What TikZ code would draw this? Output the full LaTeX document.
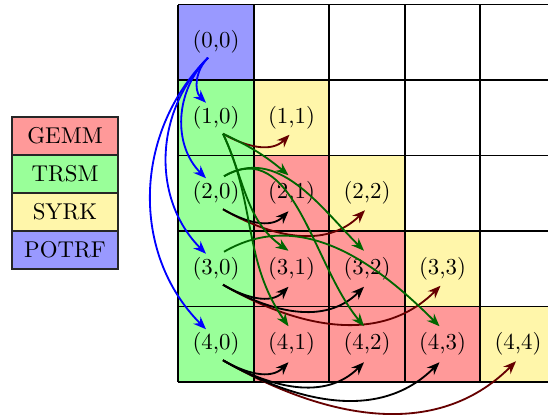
\documentclass[tikz,border=0pt]{standalone}
\usetikzlibrary{arrows.meta,calc}
\definecolor{gemm}{RGB}{255,153,153}
\definecolor{trsm}{RGB}{153,255,153}
\definecolor{syrk}{RGB}{255,246,170}
\definecolor{potrf}{RGB}{153,153,255}
\definecolor{dgreen}{RGB}{0,102,0}
\definecolor{dred}{RGB}{102,0,0}
\begin{document}
\begin{tikzpicture}[x=0.4375pt,y=0.4375pt,
  cellbox/.style={fill=#1, minimum width=33.03pt, minimum height=33.03pt, inner sep=0pt, outer sep=0pt},
  legbox/.style={fill=#1, draw=black!85, line width=0.5pt, minimum width=46.4pt, minimum height=16.6pt, inner sep=0pt, outer sep=0pt},
  gridline/.style={thick, black},
  arr/.style={thick, -{Stealth[length=5.6pt,width=4.4pt]}},
  potrfarr/.style={arr, blue},
  gemmarr/.style={arr, black},
  syrkarr/.style={arr, dred},
  trsmarr/.style={arr, dgreen}]
\useasboundingbox (0,0) rectangle (548,417);
% legend
\node[legbox=gemm]  (lgemm)  at (65,281) {GEMM};
\node[legbox=trsm]  (ltrsm)  at (65,243) {TRSM};
\node[legbox=syrk]  (lsyrk)  at (65,205) {SYRK};
\node[legbox=potrf] (lpotrf) at (65,167) {POTRF};
% cells
\foreach \r in {0,...,4}{
  \foreach \c in {0,...,4}{
    \ifnum\c>\r \def\fc{white}\def\lab{}\else
      \def\lab{(\r,\c)}%
      \ifnum\c=\r \ifnum\r=0 \def\fc{potrf}\else\def\fc{syrk}\fi
      \else \ifnum\c=0 \def\fc{trsm}\else\def\fc{gemm}\fi\fi
    \fi
    \node[cellbox=\fc] (c\r\c) at ({216+75.5*\c},{374.75-75.5*\r}) {\lab};
  }
}
% grid lines
\foreach \i in {0,...,5}{
  \draw[gridline] ({178.3+75.5*\i},35) -- ({178.3+75.5*\i},412.5);
  \draw[gridline] (178.3,{35+75.5*\i}) -- (570,{35+75.5*\i});
}
% POTRF -> TRSM
\foreach \r in {1,...,4}
  \draw[potrfarr] ($(c00)+(-8,-15.5)$) to[out=225,in=135] ($(c\r0)+(-10,15)$);
% TRSM -> SYRK
\foreach \r in {1,...,4}
  \draw[syrkarr] ($(c\r0)+(7,-16)$) to[out=-30,in=225] ($(c\r\r)+(-2,-17)$);
% TRSM -> GEMM (row)
\draw[gemmarr] ($(c20)+(7,-16)$) to[out=-30,in=225] ($(c21)+(-3,-18)$);
\draw[gemmarr] ($(c30)+(7,-16)$) to[out=-30,in=225] ($(c31)+(-3,-18)$);
\draw[gemmarr] ($(c30)+(7,-16)$) to[out=-30,in=225] ($(c32)+(-3,-18)$);
\draw[gemmarr] ($(c40)+(7,-16)$) to[out=-30,in=225] ($(c41)+(-3,-18)$);
\draw[gemmarr] ($(c40)+(7,-16)$) to[out=-30,in=225] ($(c42)+(-3,-18)$);
\draw[gemmarr] ($(c40)+(7,-16)$) to[out=-30,in=225] ($(c43)+(-3,-18)$);
% TRSM -> GEMM (column)
\draw[trsmarr] ($(c10)+(7,-16)$) to[out=-25,in=140] ($(c21)+(-3,18)$);
\draw[trsmarr] ($(c10)+(7,-16)$) to[out=-65,in=145] ($(c31)+(-3,18)$);
\draw[trsmarr] ($(c10)+(7,-16)$) to[out=-65,in=125] ($(c41)+(-3,18)$);
\draw[trsmarr] ($(c20)+(8,17)$) to[out=30,in=135] ($(c32)+(-3,18)$);
\draw[trsmarr] ($(c20)+(8,17)$) to[out=30,in=130] ($(c42)+(-3,18)$);
\draw[trsmarr] ($(c30)+(8,17)$) to[out=30,in=135] ($(c43)+(-3,18)$);
\end{tikzpicture}
\end{document}
